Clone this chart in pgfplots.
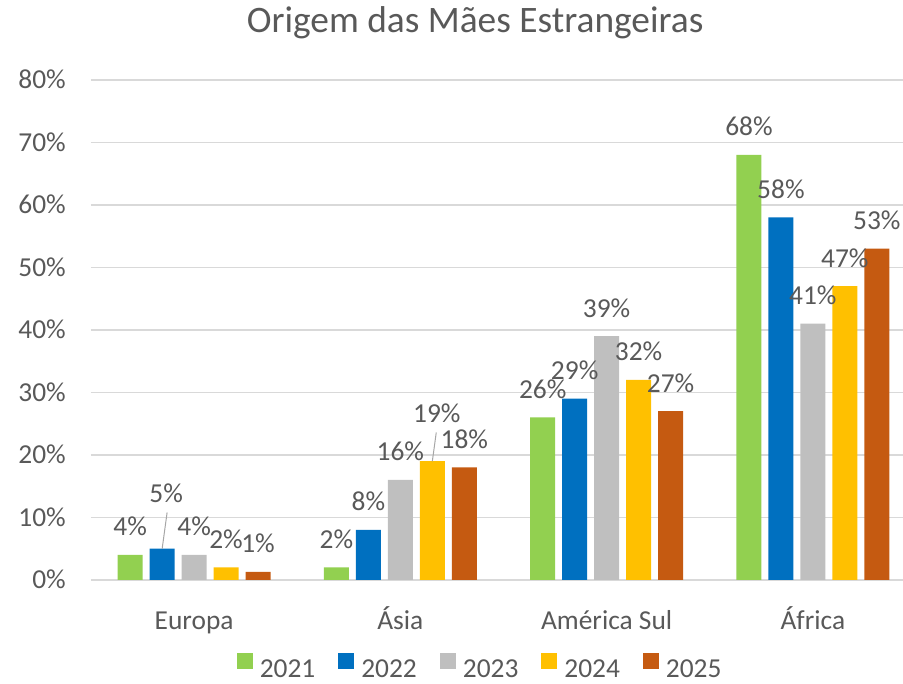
\documentclass[border=0pt]{standalone}
\usepackage{pgfplots}
\pgfplotsset{compat=1.18}
\usepackage{pgfplotstable}
\usepackage{fontspec}
\setmainfont{Carlito}
\definecolor{c21}{HTML}{92D050}
\definecolor{c22}{HTML}{0070C0}
\definecolor{c23}{HTML}{BFBFBF}
\definecolor{c24}{HTML}{FFC000}
\definecolor{c25}{HTML}{C55A11}
\definecolor{txt}{HTML}{595959}
\definecolor{gridc}{HTML}{D9D9D9}
\definecolor{lead}{HTML}{A6A6A6}

\pgfplotstableread{
x y l dx dy
0 4 4 0 0
1 2 2 0 0
2 26 26 0 0
3 68 68 0 0
}\tA
\pgfplotstableread{
x y l dx dy
0 5 5 4 27
1 8 8 0 0
2 29 29 0 0
3 58 58 0 0
}\tB
\pgfplotstableread{
x y l dx dy
0 4 4 0 0
1 16 16 0 0
2 39 39 0 0
3 41 41 0 0
}\tC
\pgfplotstableread{
x y l dx dy
0 2 2 0 0
1 19 19 4.5 20
2 32 32 0 0
3 47 47 0 0
}\tD
\pgfplotstableread{
x y l dx dy
0 1.3 1 0 0
1 18 18 0 0
2 27 27 0 0
3 53 53 0 0
}\tE

\newcommand{\fs}{\fontsize{27.5}{33}\selectfont}

\begin{document}
\begin{tikzpicture}
\begin{axis}[
  scale only axis, width=812bp, height=500bp,
  xmin=-0.5, xmax=3.437, ymin=0, ymax=80,
  ytick={0,10,...,80},
  yticklabels={0\%,10\%,20\%,30\%,40\%,50\%,60\%,70\%,80\%},
  xtick={0,1,2,3},
  xticklabels={Europa,Ásia,América Sul,África},
  axis line style={draw=none},
  major tick style={draw=none},
  ymajorgrids, grid style={gridc, line width=1.3bp},
  yticklabel style={font=\fs, text=txt, anchor=base east, inner sep=0pt, xshift=-25bp, yshift=-8.7bp},
  xticklabel style={font=\fs, text=txt, anchor=base, inner sep=0pt, yshift=-45bp},
  title={Origem das Mães Estrangeiras},
  title style={at={(axis description cs:0.473,1)}, anchor=base, yshift=42bp, font=\fontsize{37.5}{44}\selectfont, text=txt, inner sep=0pt},
  ybar, bar width=0.121,
  point meta=explicit,
  nodes near coords={\pgfmathprintnumber[assume math mode=true]{\pgfplotspointmeta}\%},
  visualization depends on={\thisrow{dx}\as\dx},
  visualization depends on={\thisrow{dy}\as\dy},
  nodes near coords style={font=\fs, text=txt, anchor=base, inner sep=0pt, yshift=19bp, xshift=\dx bp, yshift=\dy bp},
  legend columns=5,
  legend image code/.code={\fill[#1] (0bp,0bp) rectangle (16bp,16bp);},
  legend style={at={(axis description cs:0.478,-0.198)}, anchor=south, draw=none, fill=none, font=\fs, text=txt, inner sep=0pt,
    nodes={inner sep=0pt},
    /tikz/every odd column/.append style={column sep=7bp},
    /tikz/every even column/.append style={column sep=23bp}},
  clip=false,
]
\addplot[fill=c21, draw=none, bar shift=-0.31] table[x=x, y=y, meta=l] {\tA};
\addplot[fill=c22, draw=none, bar shift=-0.155] table[x=x, y=y, meta=l] {\tB};
\addplot[fill=c23, draw=none, bar shift=0] table[x=x, y=y, meta=l] {\tC};
\addplot[fill=c24, draw=none, bar shift=0.155] table[x=x, y=y, meta=l] {\tD};
\addplot[fill=c25, draw=none, bar shift=0.31] table[x=x, y=y, meta=l] {\tE};
\legend{2021,2022,2023,2024,2025}
\draw[lead, line width=1bp] (axis cs:-0.131,10.8) -- (axis cs:-0.155,5);
\draw[lead, line width=1bp] (axis cs:1.174,23.6) -- (axis cs:1.155,19);
\end{axis}
\pgfresetboundingbox
\path[use as bounding box] ([shift={(-91bp,-104bp)}]current axis.south west) rectangle ([shift={(0bp,80bp)}]current axis.north east);
\end{tikzpicture}
\end{document}
